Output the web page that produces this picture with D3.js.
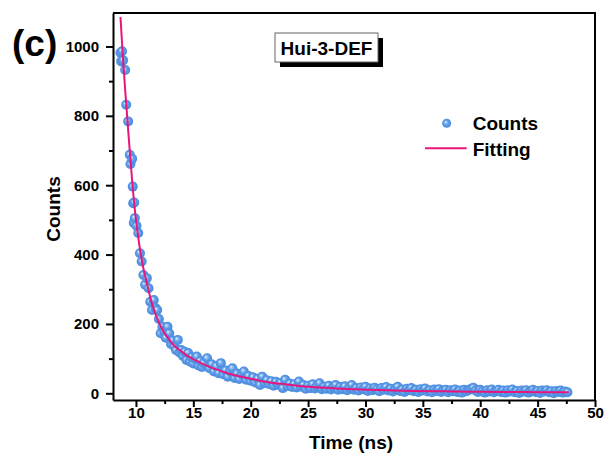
<!DOCTYPE html>
<html>
<head>
<meta charset="utf-8">
<title></title>
<style>
body { margin: 0; background: #fff; }
text { font-family: "Liberation Sans", Arial, sans-serif; font-weight: bold; fill: #000; }
.axis path, .axis line { stroke: #000; stroke-width: 2px; }
</style>
</head>
<body>
<script src="https://cdn.jsdelivr.net/npm/d3@7"></script>
<script>

// measured decay counts [time (ns), counts]
var decayPoints = [
  [8.65,982],[8.71,957],[8.79,986],[8.88,960],[9.06,932],[9.15,832],[9.32,784],[9.46,688],
  [9.52,661],[9.67,676],[9.72,596],[9.76,548],[9.85,550],[9.81,491],
  [9.9,505],[10.05,483],[10.2,462],[10.35,404],[10.5,380],[10.65,341],[10.8,313],[10.95,332],
  [11.1,303],[11.25,264],[11.4,240],[11.55,269],[11.7,246],[11.85,240],[12.0,214],[12.15,173],
  [12.3,192],[12.45,180],[12.6,160],[12.75,192],[12.9,173],[13.05,142],[13.2,152],[13.35,135],
  [13.5,124],[13.65,154],[13.8,118],[13.95,125],[14.1,108],[14.25,120],[14.4,96],[14.55,116],
  [14.7,92],[14.85,104],[15.0,86],[15.15,99],[15.3,106],[15.45,80],[15.6,93],[15.75,76],[15.9,87],
  [16.2,101],[16.4,72],[16.6,84],[16.8,63],[17.0,78],[17.2,58],[17.4,87],[17.6,55],[17.8,66],
  [18.0,48],[18.2,63],[18.4,72],[18.6,44],[18.8,57],[19.0,41],[19.2,55],[19.4,63],[19.6,39],
  [19.8,50],[20.0,36],[20.2,46],[20.4,31],[20.6,42],[20.8,24],[21.0,48],[21.2,30],[21.4,38],
  [21.6,27],[21.8,35],[22.0,22],[22.2,33],[22.4,25],[22.6,30],[22.8,15],[23.0,39],[23.2,21],
  [23.4,28],[23.6,18],[23.8,26],[24.0,17],[24.2,34],[24.4,19],[24.6,24],[24.8,13],[25.0,22],
  [25.2,15],[25.4,26],[25.6,14],[25.8,20],[26.0,29],[26.2,12],[26.4,19],[26.6,13],[26.8,22],
  [27.0,11],[27.2,17],[27.4,24],[27.6,10],[27.8,18],[28.0,12],[28.2,20],[28.4,9],[28.6,16],
  [28.8,24],[29.0,10],[29.2,15],[29.4,8],[29.6,17],[29.8,12],[30.0,19],[30.2,7],[30.4,14],
  [30.6,9],[30.8,16],[31.0,11],[31.2,6],[31.4,15],[31.6,10],[31.8,18],[32.0,8],[32.2,13],
  [32.4,5],[32.6,12],[32.8,19],[33.0,7],[33.2,11],[33.4,4],[33.6,13],[33.8,9],[34.0,15],
  [34.2,6],[34.4,10],[34.6,4],[34.8,12],[35.0,8],[35.2,14],[35.4,5],[35.6,9],[35.8,3],
  [36.0,11],[36.2,7],[36.4,12],[36.6,4],[36.8,8],[37.0,10],[37.2,3],[37.4,9],[37.6,6],
  [37.8,11],[38.0,4],[38.2,8],[38.4,2],[38.6,10],[38.8,6],[39.0,9],[39.2,13],[39.4,16],
  [39.6,8],[39.8,4],[40.0,10],[40.2,6],[40.4,2],[40.6,9],[40.8,5],[41.0,11],[41.2,3],
  [41.4,7],[41.6,10],[41.8,4],[42.0,8],[42.2,2],[42.4,9],[42.6,5],[42.8,11],[43.0,3],
  [43.2,7],[43.4,1],[43.6,8],[43.8,5],[44.0,9],[44.2,2],[44.4,6],[44.6,10],[44.8,4],
  [45.0,7],[45.2,1],[45.4,8],[45.6,5],[45.8,9],[46.0,3],[46.2,6],[46.4,0],[46.6,7],
  [46.8,4],[47.0,8],[47.2,2],[47.4,5],[47.6,3]
];

// fitted decay curve [time (ns), counts]
var fitPoints = [
  [8.65,1085],[8.9,950],[9.15,835],[9.4,725],[9.65,620],[9.9,530],[10.15,462],[10.4,405],
  [10.65,360],[10.9,325],[11.15,290],[11.4,258],[11.65,233],[11.9,212],[12.15,194],[12.4,178],
  [12.9,155],[13.4,135],[14,120],[14.5,108],[15,98],[15.5,90],[16,82],[17,69],[18,58],
  [19,49],[20,42],[21,35],[22,30],[23,26],[24,22],[25,19],[26,17],[27,15],[28,13],
  [30,10.5],[32,8.5],[34,7],[36,6],[38,5],[40,4.5],[42,4],[44,3.5],[46,3.2],[47.7,3]
];

var xTicks = [10, 15, 20, 25, 30, 35, 40, 45, 50];
var xMinor = [12.5, 17.5, 22.5, 27.5, 32.5, 37.5, 42.5, 47.5];
var yTicks = [0, 200, 400, 600, 800, 1000];
var yMinor = [100, 300, 500, 700, 900];

var width = 608, height = 457;
var plotL = 113, plotR = 595, plotT = 13, plotB = 400;

var svg = d3.select("body").append("svg")
    .attr("width", width)
    .attr("height", height);

var defs = svg.append("defs");
var grad = defs.append("radialGradient")
    .attr("id", "ball")
    .attr("cx", "50%").attr("cy", "50%").attr("r", "50%")
    .attr("fx", "36%").attr("fy", "34%");
grad.append("stop").attr("offset", "0%").attr("stop-color", "#f4f9ff");
grad.append("stop").attr("offset", "22%").attr("stop-color", "#9dc6f4");
grad.append("stop").attr("offset", "55%").attr("stop-color", "#5b9be8");
grad.append("stop").attr("offset", "100%").attr("stop-color", "#4a8adc");

var x = d3.scaleLinear().domain([8, 50]).range([plotL, plotR]);
var y = d3.scaleLinear().domain([-19.3, 1096.5]).range([plotB, plotT]);

// frame (top & right)
svg.append("path")
    .attr("d", "M" + plotL + "," + plotT + "H" + plotR + "V" + plotB)
    .attr("fill", "none")
    .attr("stroke", "#000")
    .attr("stroke-width", 2);

// minor ticks
svg.append("g").attr("class", "axis")
    .attr("transform", "translate(0," + plotB + ")")
    .call(d3.axisBottom(x).tickValues(xMinor).tickSize(4).tickFormat(""))
    .select(".domain").remove();
svg.append("g").attr("class", "axis")
    .attr("transform", "translate(" + plotL + ",0)")
    .call(d3.axisLeft(y).tickValues(yMinor).tickSize(4).tickFormat(""))
    .select(".domain").remove();

// major axes
var xAxisG = svg.append("g").attr("class", "axis")
    .attr("transform", "translate(0," + plotB + ")")
    .call(d3.axisBottom(x).tickValues(xTicks).tickSize(7).tickPadding(0).tickSizeOuter(0));
var yAxisG = svg.append("g").attr("class", "axis")
    .attr("transform", "translate(" + plotL + ",0)")
    .call(d3.axisLeft(y).tickValues(yTicks).tickFormat(d3.format("d")).tickSize(7).tickPadding(7).tickSizeOuter(0));

[xAxisG, yAxisG].forEach(function(g) {
  g.selectAll("text")
      .style("font-family", "'Liberation Sans', Arial, sans-serif")
      .style("font-size", "15px")
      .style("font-weight", "bold")
      .style("fill", "#000");
});

// data points
svg.append("g")
    .selectAll("circle")
    .data(decayPoints)
    .enter().append("circle")
    .attr("cx", function(d) { return x(d[0]); })
    .attr("cy", function(d) { return y(d[1]); })
    .attr("r", 5)
    .attr("fill", "url(#ball)");

// fitting curve
var line = d3.line()
    .x(function(d) { return x(d[0]); })
    .y(function(d) { return y(d[1]); })
    .curve(d3.curveMonotoneX);

svg.append("path")
    .datum(fitPoints)
    .attr("d", line)
    .attr("fill", "none")
    .attr("stroke", "#e8167c")
    .attr("stroke-width", 2);

// axis titles
svg.append("text")
    .attr("x", 351)
    .attr("y", 449)
    .attr("text-anchor", "middle")
    .style("font-size", "19px")
    .text("Time (ns)");

svg.append("text")
    .attr("transform", "translate(60,209) rotate(-90)")
    .attr("text-anchor", "middle")
    .style("font-size", "19px")
    .text("Counts");

// panel label
svg.append("text")
    .attr("x", 12)
    .attr("y", 56)
    .style("font-size", "37px")
    .text("(c)");

// sample label box with shadow
svg.append("rect")
    .attr("x", 280).attr("y", 38)
    .attr("width", 103).attr("height", 29)
    .attr("fill", "#000");
svg.append("rect")
    .attr("x", 275).attr("y", 33)
    .attr("width", 103).attr("height", 29)
    .attr("fill", "#fff")
    .attr("stroke", "#666")
    .attr("stroke-width", 1);
svg.append("text")
    .attr("x", 326.5)
    .attr("y", 55)
    .attr("text-anchor", "middle")
    .style("font-size", "19px")
    .text("Hui-3-DEF");

// legend
svg.append("circle")
    .attr("cx", 446.7).attr("cy", 123.3)
    .attr("r", 4.5)
    .attr("fill", "url(#ball)");
svg.append("text")
    .attr("x", 472.7).attr("y", 130)
    .style("font-size", "19px")
    .text("Counts");
svg.append("line")
    .attr("x1", 425).attr("x2", 466.7)
    .attr("y1", 148.3).attr("y2", 148.3)
    .attr("stroke", "#e8167c")
    .attr("stroke-width", 2);
svg.append("text")
    .attr("x", 472.7).attr("y", 155.5)
    .style("font-size", "19px")
    .text("Fitting");

</script>
</body>
</html>
